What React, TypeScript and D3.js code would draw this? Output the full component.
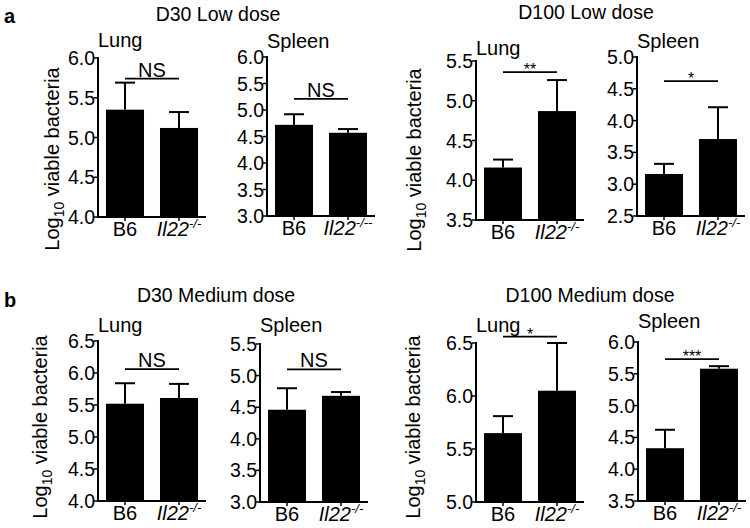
import React from "react";
import * as d3 from "d3";

// ---------- data ----------
const groups = ["B6", "Il22"];
const organs = ["Lung", "Spleen", "Lung", "Spleen", "Lung", "Spleen", "Lung", "Spleen"];
const figureTitles = ["D30 Low dose", "D100 Low dose", "D30 Medium dose", "D100 Medium dose"];
const rowLetters = ["a", "b"];
const meanValues = [
  [5.35, 5.12],
  [4.72, 4.57],
  [4.16, 4.87],
  [3.16, 3.71],
  [5.52, 5.61],
  [4.46, 4.68],
  [5.65, 6.05],
  [4.33, 5.58],
];
const errValues = [
  [0.34, 0.2],
  [0.2, 0.07],
  [0.1, 0.39],
  [0.16, 0.5],
  [0.32, 0.22],
  [0.34, 0.06],
  [0.16, 0.45],
  [0.29, 0.04],
];
const yDomains = [
  [4, 6],
  [3, 6],
  [3.5, 5.5],
  [2.5, 5],
  [4, 6.5],
  [3, 5.5],
  [5, 6.5],
  [3.5, 6],
];
const sigLabels = ["NS", "NS", "**", "*", "NS", "NS", "*", "***"];
const sigLevels = [5.74, 5.21, 5.36, 4.62, 6.06, 5.1, 6.56, 5.73];
const koSuperscripts = ["-/-", "-/--", "-/-", "-/-", "-/-", "-/-", "-/-", "-/-"];
const yAxisTitle = { main: "Log", sub: "10", rest: " viable bacteria" };

// ---------- layout ----------
const FONT = "'Liberation Sans', Arial, Helvetica, sans-serif";
const frames = [
  { x0: 98, yTop: 58, yBot: 217, labelY: 47 },
  { x0: 267, yTop: 57, yBot: 216, labelY: 48 },
  { x0: 476, yTop: 61, yBot: 220, labelY: 55 },
  { x0: 637, yTop: 57, yBot: 216, labelY: 48 },
  { x0: 98, yTop: 341, yBot: 501, labelY: 332 },
  { x0: 260, yTop: 344, yBot: 502, labelY: 332 },
  { x0: 476, yTop: 343, yBot: 502, labelY: 332 },
  { x0: 638, yTop: 342, yBot: 501, labelY: 328 },
];
const titlePos = [
  { x: 218, y: 21 },
  { x: 586, y: 19 },
  { x: 216, y: 302 },
  { x: 590, y: 302 },
];
const yLabelPos = [
  { x: 59, y: 159 },
  { x: 421, y: 160 },
  { x: 47, y: 427 },
  { x: 420, y: 427 },
];

function Panel({ i }: { i: number }) {
  const f = frames[i];
  const [lo, hi] = yDomains[i];
  const y = d3.scaleLinear().domain([lo, hi]).range([f.yBot, f.yTop]);
  const x = d3
    .scaleBand()
    .domain(groups)
    .range([f.x0 + 8, f.x0 + 100])
    .paddingInner(0.296)
    .paddingOuter(0);
  const ticks = y.ticks(Math.round((hi - lo) / 0.5));
  const fmt = d3.format(".1f");
  const bw = x.bandwidth();
  const cx = (g: string) => (x(g) as number) + bw / 2;
  const axisEnd = f.x0 + 108;
  const sy = y(sigLevels[i]);
  const isStar = sigLabels[i].includes("*");
  return (
    <g>
      {/* bars */}
      {groups.map((g, k) => (
        <rect
          key={g}
          x={x(g)}
          y={y(meanValues[i][k])}
          width={bw}
          height={y(lo) - y(meanValues[i][k])}
          fill="#000"
        />
      ))}
      {/* error bars */}
      {groups.map((g, k) => {
        const top = y(meanValues[i][k] + errValues[i][k]);
        return (
          <g key={"e" + g} stroke="#000" strokeWidth={2}>
            <line x1={cx(g)} x2={cx(g)} y1={y(meanValues[i][k])} y2={top} />
            <line x1={cx(g) - 10} x2={cx(g) + 10} y1={top} y2={top} />
          </g>
        );
      })}
      {/* y axis */}
      <line x1={f.x0} x2={f.x0} y1={f.yTop - 1} y2={f.yBot + 1} stroke="#000" strokeWidth={2} />
      {ticks.map((t) => (
        <g key={t}>
          <line x1={f.x0 - 4} x2={f.x0} y1={y(t)} y2={y(t)} stroke="#000" strokeWidth={1.5} />
          <text
            x={f.x0 - 3}
            y={y(t)}
            dy="0.36em"
            textAnchor="end"
            fontSize={19.5}
            fontFamily={FONT}
            fill="#000"
          >
            {fmt(t)}
          </text>
        </g>
      ))}
      {/* x axis */}
      <line x1={f.x0 - 1} x2={axisEnd} y1={f.yBot} y2={f.yBot} stroke="#000" strokeWidth={2} />
      {groups.map((g) => (
        <line key={"t" + g} x1={cx(g)} x2={cx(g)} y1={f.yBot} y2={f.yBot + 4} stroke="#000" strokeWidth={1.5} />
      ))}
      <text x={cx("B6")} y={f.yBot + 19} textAnchor="middle" fontSize={20} fontFamily={FONT} fill="#000">
        B6
      </text>
      <text x={cx("Il22")} y={f.yBot + 19} textAnchor="middle" fontSize={20} fontFamily={FONT} fill="#000">
        <tspan fontStyle="italic">Il22</tspan>
        <tspan fontSize={13} dy={-8} fontStyle="italic">
          {koSuperscripts[i]}
        </tspan>
      </text>
      {/* organ label */}
      <text x={f.x0} y={f.labelY} fontSize={20} fontFamily={FONT} fill="#000">
        {organs[i]}
      </text>
      {/* significance */}
      <line x1={cx("B6")} x2={cx("Il22")} y1={sy} y2={sy} stroke="#000" strokeWidth={1.8} />
      <text
        x={(cx("B6") + cx("Il22")) / 2}
        y={isStar ? sy + 3 : sy - 2}
        textAnchor="middle"
        fontSize={isStar ? 16 : 20}
        fontFamily={FONT}
        fill="#000"
      >
        {sigLabels[i]}
      </text>
    </g>
  );
}

export default function App() {
  return (
    <svg
      width={750}
      height={528}
      style={{ position: "absolute", left: 0, top: 0, background: "#fff" }}
    >
      <rect width={750} height={528} fill="#fff" />
      {rowLetters.map((l, r) => (
        <text
          key={l}
          x={4}
          y={r === 0 ? 23 : 307}
          fontSize={20}
          fontWeight="bold"
          fontFamily={FONT}
          fill="#000"
        >
          {l}
        </text>
      ))}
      {figureTitles.map((t, k) => (
        <text
          key={t}
          x={titlePos[k].x}
          y={titlePos[k].y}
          textAnchor="middle"
          fontSize={19.5}
          fontFamily={FONT}
          fill="#000"
        >
          {t}
        </text>
      ))}
      {yLabelPos.map((p, k) => (
        <text
          key={k}
          transform={`translate(${p.x},${p.y}) rotate(-90)`}
          textAnchor="middle"
          fontSize={20}
          fontFamily={FONT}
          fill="#000"
        >
          {yAxisTitle.main}
          <tspan fontSize={14} dy={5}>
            {yAxisTitle.sub}
          </tspan>
          <tspan dy={-5}>{yAxisTitle.rest}</tspan>
        </text>
      ))}
      {frames.map((_, i) => (
        <Panel key={i} i={i} />
      ))}
    </svg>
  );
}
